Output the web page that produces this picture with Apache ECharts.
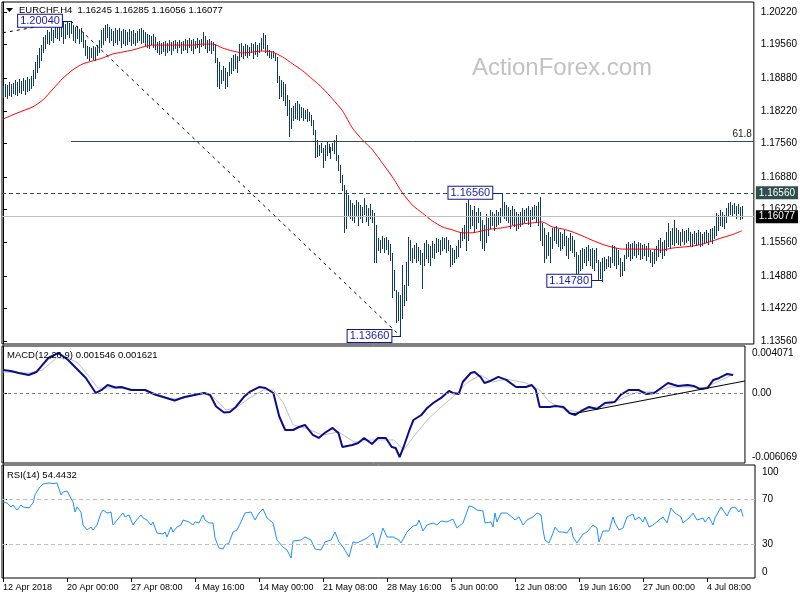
<!DOCTYPE html>
<html><head><meta charset="utf-8">
<script src="https://cdn.jsdelivr.net/npm/echarts@6/dist/echarts.min.js"></script>
<style>html,body{margin:0;padding:0;background:#fff}#c{width:800px;height:600px}</style>
</head><body><div id="c"></div>
<script>
// ---------- DATA ----------
const headerText = 'EURCHF.H4  1.16245 1.16285 1.16056 1.16077';
const macdTitle = 'MACD(12,26,9) 0.001546 0.001621';
const rsiTitle = 'RSI(14) 54.4432';

const xTickIdx = [0,32,64,96,128,160,192,224,256,288,320,352];
const xTickLabels = ['12 Apr 2018','20 Apr 00:00','27 Apr 08:00','4 May 16:00','14 May 00:00','21 May 08:00','28 May 16:00','5 Jun 00:00','12 Jun 08:00','19 Jun 16:00','27 Jun 00:00','4 Jul 08:00'];
const priceTicks = [1.2022,1.1956,1.1888,1.1822,1.1756,1.1688,1.1622,1.1556,1.1488,1.1422,1.1356];
const macdTicks = [0.004071, 0, -0.006069];
const macdTickLabels = ['0.004071','0.00','-0.006069'];
const rsiTicks = [100,70,30,0];

const barHigh = [
1.1872,1.1876,1.1874,1.1880,1.1876,1.1878,1.1884,1.1880,1.1886,1.1882,
1.1888,1.1884,1.1890,1.1886,1.1892,1.1905,1.1921,1.1935,1.1949,1.1955,
1.1971,1.1975,1.1986,1.1982,1.1990,1.1986,1.1996,1.2002,1.1998,1.2000,
1.2002,1.1998,1.2002,1.2000,1.2004,1.1996,1.1992,1.1994,1.1988,1.1990,
1.1982,1.1965,1.1953,1.1951,1.1949,1.1953,1.1951,1.1955,1.1965,1.1986,
1.1990,1.1996,1.1998,1.1992,1.1988,1.1984,1.1990,1.1986,1.1990,1.1984,
1.1988,1.1986,1.1982,1.1988,1.1984,1.1986,1.1980,1.1984,1.1988,1.1990,
1.1986,1.1982,1.1977,1.1975,1.1973,1.1977,1.1971,1.1961,1.1963,1.1959,
1.1961,1.1963,1.1959,1.1965,1.1961,1.1963,1.1965,1.1961,1.1965,1.1961,
1.1963,1.1967,1.1965,1.1969,1.1965,1.1967,1.1963,1.1969,1.1965,1.1967,
1.1982,1.1973,1.1965,1.1967,1.1963,1.1961,1.1957,1.1929,1.1921,1.1905,
1.1913,1.1909,1.1901,1.1921,1.1929,1.1935,1.1937,1.1933,1.1957,1.1959,
1.1953,1.1957,1.1955,1.1951,1.1959,1.1957,1.1961,1.1955,1.1959,1.1969,
1.1980,1.1975,1.1955,1.1945,1.1941,1.1943,1.1939,1.1931,1.1892,1.1884,
1.1880,1.1876,1.1854,1.1844,1.1828,1.1832,1.1838,1.1842,1.1836,1.1830,
1.1828,1.1824,1.1826,1.1820,1.1814,1.1803,1.1783,1.1763,1.1753,1.1757,
1.1747,1.1753,1.1759,1.1755,1.1749,1.1757,1.1763,1.1773,1.1733,1.1712,
1.1692,1.1672,1.1662,1.1652,1.1641,1.1635,1.1631,1.1641,1.1637,1.1631,
1.1627,1.1645,1.1631,1.1625,1.1633,1.1621,1.1615,1.1591,1.1565,1.1560,
1.1569,1.1565,1.1567,1.1560,1.1552,1.1534,1.1500,1.1459,1.1455,1.1449,
1.1510,1.1469,1.1516,1.1567,1.1560,1.1544,1.1550,1.1554,1.1546,1.1540,
1.1534,1.1554,1.1560,1.1552,1.1548,1.1558,1.1552,1.1565,1.1562,1.1560,
1.1567,1.1565,1.1567,1.1560,1.1550,1.1544,1.1540,1.1548,1.1560,1.1577,
1.1585,1.1591,1.1635,1.1641,1.1631,1.1621,1.1629,1.1617,1.1625,1.1617,
1.1601,1.1591,1.1613,1.1605,1.1621,1.1617,1.1613,1.1621,1.1617,1.1625,
1.1656,1.1637,1.1631,1.1627,1.1621,1.1629,1.1623,1.1617,1.1613,1.1617,
1.1625,1.1621,1.1625,1.1629,1.1621,1.1627,1.1631,1.1629,1.1637,1.1648,
1.1595,1.1585,1.1571,1.1577,1.1567,1.1585,1.1587,1.1589,1.1583,1.1577,
1.1573,1.1581,1.1569,1.1565,1.1575,1.1569,1.1560,1.1536,1.1530,1.1540,
1.1544,1.1542,1.1546,1.1550,1.1542,1.1544,1.1540,1.1544,1.1520,1.1516,
1.1524,1.1526,1.1522,1.1528,1.1526,1.1550,1.1548,1.1544,1.1540,1.1524,
1.1516,1.1530,1.1552,1.1556,1.1552,1.1554,1.1558,1.1552,1.1556,1.1554,
1.1550,1.1552,1.1548,1.1554,1.1540,1.1536,1.1542,1.1548,1.1560,1.1565,
1.1556,1.1560,1.1577,1.1595,1.1579,1.1585,1.1601,1.1585,1.1581,1.1577,
1.1583,1.1579,1.1581,1.1585,1.1577,1.1573,1.1579,1.1575,1.1581,1.1577,
1.1573,1.1577,1.1581,1.1575,1.1583,1.1585,1.1589,1.1615,1.1611,1.1621,
1.1617,1.1611,1.1625,1.1635,1.1637,1.1631,1.1635,1.1629,1.1633,1.1627,
1.16285];

const barLow = [
1.1850,1.1852,1.1848,1.1854,1.1852,1.1858,1.1856,1.1854,1.1860,1.1858,
1.1864,1.1856,1.1862,1.1864,1.1868,1.1874,1.1888,1.1901,1.1911,1.1925,
1.1941,1.1949,1.1959,1.1957,1.1965,1.1961,1.1971,1.1969,1.1965,1.1973,
1.1959,1.1969,1.1977,1.1971,1.1980,1.1965,1.1961,1.1969,1.1959,1.1963,
1.1951,1.1935,1.1929,1.1925,1.1931,1.1927,1.1925,1.1935,1.1941,1.1951,
1.1957,1.1965,1.1971,1.1961,1.1965,1.1955,1.1961,1.1957,1.1965,1.1951,
1.1959,1.1955,1.1957,1.1963,1.1955,1.1959,1.1955,1.1961,1.1965,1.1959,
1.1961,1.1955,1.1951,1.1949,1.1957,1.1951,1.1947,1.1941,1.1937,1.1939,
1.1943,1.1935,1.1941,1.1945,1.1937,1.1945,1.1949,1.1941,1.1951,1.1939,
1.1945,1.1947,1.1941,1.1951,1.1945,1.1939,1.1949,1.1951,1.1941,1.1953,
1.1955,1.1949,1.1941,1.1945,1.1939,1.1945,1.1921,1.1872,1.1868,1.1878,
1.1884,1.1868,1.1872,1.1894,1.1899,1.1905,1.1909,1.1901,1.1925,1.1933,
1.1929,1.1935,1.1931,1.1935,1.1941,1.1929,1.1937,1.1933,1.1941,1.1945,
1.1949,1.1941,1.1935,1.1931,1.1929,1.1931,1.1925,1.1880,1.1848,1.1852,
1.1844,1.1834,1.1814,1.1771,1.1787,1.1803,1.1807,1.1805,1.1803,1.1809,
1.1803,1.1807,1.1801,1.1803,1.1793,1.1775,1.1728,1.1731,1.1733,1.1739,
1.1708,1.1722,1.1733,1.1739,1.1726,1.1743,1.1737,1.1722,1.1702,1.1678,
1.1662,1.1577,1.1585,1.1611,1.1605,1.1601,1.1597,1.1611,1.1591,1.1605,
1.1597,1.1613,1.1599,1.1591,1.1605,1.1597,1.1516,1.1516,1.1540,1.1536,
1.1544,1.1536,1.1542,1.1532,1.1520,1.1445,1.1459,1.1394,1.1399,1.1366,
1.1403,1.1429,1.1439,1.1469,1.1520,1.1516,1.1524,1.1516,1.1520,1.1512,
1.1463,1.1510,1.1524,1.1516,1.1510,1.1526,1.1524,1.1536,1.1538,1.1532,
1.1540,1.1544,1.1536,1.1540,1.1508,1.1512,1.1516,1.1524,1.1528,1.1546,
1.1560,1.1565,1.1540,1.1560,1.1585,1.1591,1.1577,1.1585,1.1597,1.1560,
1.1544,1.1540,1.1556,1.1571,1.1585,1.1591,1.1581,1.1589,1.1593,1.1597,
1.1611,1.1605,1.1601,1.1597,1.1585,1.1593,1.1589,1.1581,1.1585,1.1589,
1.1593,1.1597,1.1601,1.1593,1.1589,1.1603,1.1605,1.1599,1.1591,1.1560,
1.1550,1.1516,1.1524,1.1530,1.1516,1.1544,1.1560,1.1554,1.1548,1.1540,
1.1544,1.1550,1.1530,1.1524,1.1540,1.1536,1.1528,1.1479,1.1488,1.1500,
1.1504,1.1516,1.1510,1.1520,1.1510,1.1504,1.1500,1.1516,1.1481,1.1484,
1.1478,1.1500,1.1504,1.1508,1.1506,1.1516,1.1510,1.1504,1.1512,1.1488,
1.1490,1.1500,1.1524,1.1528,1.1520,1.1524,1.1530,1.1526,1.1532,1.1522,
1.1524,1.1530,1.1520,1.1528,1.1516,1.1508,1.1514,1.1520,1.1528,1.1536,
1.1524,1.1530,1.1540,1.1548,1.1544,1.1552,1.1550,1.1556,1.1552,1.1550,
1.1558,1.1552,1.1556,1.1560,1.1550,1.1548,1.1554,1.1550,1.1552,1.1548,
1.1550,1.1554,1.1556,1.1552,1.1558,1.1554,1.1565,1.1571,1.1581,1.1591,
1.1589,1.1585,1.1597,1.1609,1.1613,1.1611,1.1615,1.1605,1.1615,1.1603,
1.16056];

// moving average [bar index, value]
const maPoints = [[0,1.1805],[5,1.1814],[10,1.1822],[15,1.1830],[20,1.1844],[25,1.1866],[30,1.1888],[35,1.1905],[40,1.1917],[45,1.1923],[50,1.1929],[55,1.1937],[60,1.1941],[65,1.1945],[70,1.1951],[75,1.1955],[80,1.1955],[85,1.1955],[90,1.1955],[95,1.1955],[100,1.1957],[105,1.1957],[110,1.1949],[115,1.1943],[120,1.1939],[125,1.1941],[130,1.1943],[135,1.1941],[140,1.1931],[145,1.1917],[150,1.1903],[155,1.1886],[160,1.1868],[165,1.1846],[170,1.1822],[175,1.1787],[180,1.1763],[185,1.1743],[190,1.1716],[195,1.1688],[200,1.1656],[205,1.1631],[210,1.1615],[215,1.1599],[220,1.1587],[225,1.1581],[230,1.1575],[235,1.1575],[240,1.1579],[245,1.1583],[250,1.1585],[255,1.1589],[260,1.1593],[265,1.1595],[270,1.1597],[275,1.1587],[280,1.1583],[285,1.1577],[290,1.1569],[295,1.1560],[300,1.1552],[305,1.1546],[310,1.1542],[315,1.1542],[320,1.1542],[325,1.1542],[330,1.1540],[335,1.1544],[340,1.1546],[345,1.1548],[350,1.1552],[355,1.1558],[360,1.1565],[365,1.1571],[370,1.1579]];

const macdPoints = [[0,0.00199],[4,0.00191],[8,0.00173],[13,0.00156],[17,0.00182],[20,0.00243],[23,0.00303],[26,0.00329],[28,0.00347],[31,0.00312],[33,0.00286],[37,0.00217],[42,0.00130],[47,0.00000],[50,0.00026],[53,0.00069],[57,0.00048],[60,0.00052],[65,0.00026],[72,0.00026],[77,-0.00013],[82,-0.00039],[87,-0.00065],[92,-0.00035],[97,-0.00017],[102,0.00000],[105,-0.00017],[108,-0.00117],[112,-0.00169],[115,-0.00165],[118,-0.00121],[122,-0.00035],[125,0.00009],[130,0.00052],[133,0.00043],[137,0.00000],[140,-0.00204],[143,-0.00321],[147,-0.00321],[150,-0.00295],[153,-0.00277],[157,-0.00364],[160,-0.00390],[163,-0.00347],[167,-0.00303],[170,-0.00347],[172,-0.00468],[177,-0.00451],[180,-0.00434],[183,-0.00390],[187,-0.00442],[190,-0.00390],[194,-0.00390],[197,-0.00468],[199,-0.00477],[201,-0.00555],[203,-0.00468],[206,-0.00321],[208,-0.00234],[212,-0.00191],[215,-0.00130],[218,-0.00087],[222,-0.00043],[226,0.00017],[228,0.00000],[231,-0.00009],[233,0.00095],[237,0.00173],[239,0.00182],[242,0.00139],[244,0.00087],[247,0.00104],[251,0.00139],[255,0.00113],[260,0.00052],[265,0.00052],[268,0.00069],[270,0.00026],[272,-0.00121],[277,-0.00121],[280,-0.00113],[284,-0.00121],[287,-0.00173],[290,-0.00191],[293,-0.00156],[297,-0.00121],[301,-0.00139],[305,-0.00087],[310,-0.00078],[313,-0.00017],[317,0.00026],[322,0.00026],[326,-0.00009],[330,0.00000],[337,0.00087],[342,0.00061],[347,0.00069],[350,0.00061],[353,0.00035],[357,0.00043],[360,0.00113],[363,0.00130],[367,0.00165],[370,0.00155]];

const signalPoints = [[0,0.00182],[13,0.00173],[20,0.00199],[27,0.00303],[33,0.00303],[38,0.00260],[45,0.00113],[48,0.00043],[55,0.00043],[72,0.00026],[85,-0.00052],[92,-0.00043],[102,0.00000],[107,-0.00043],[113,-0.00147],[118,-0.00130],[125,-0.00043],[132,0.00026],[137,0.00026],[142,-0.00082],[147,-0.00277],[153,-0.00303],[162,-0.00364],[170,-0.00338],[178,-0.00425],[187,-0.00407],[195,-0.00407],[198,-0.00407],[203,-0.00494],[208,-0.00381],[215,-0.00234],[222,-0.00121],[228,-0.00035],[235,0.00087],[242,0.00156],[248,0.00095],[255,0.00121],[265,0.00087],[272,0.00026],[277,-0.00078],[285,-0.00147],[292,-0.00165],[298,-0.00130],[307,-0.00104],[315,-0.00035],[322,0.00009],[330,0.00009],[338,0.00052],[348,0.00052],[355,0.00043],[362,0.00095],[370,0.00162]];

const macdTrend = [[288.5,-0.00182],[376,0.00104]];

const rsiPoints = [[0,67.3],[2,66.4],[4,62.8],[5,64.6],[7,60.2],[9,64.6],[10,62.8],[13,62.0],[15,66.4],[16,73.5],[18,79.6],[20,83.2],[23,84.1],[25,83.5],[27,84.1],[29,73.5],[30,76.1],[32,77.0],[33,77.9],[35,67.3],[36,58.4],[37,62.8],[39,58.4],[40,46.9],[42,42.5],[44,45.1],[45,42.5],[47,46.9],[49,57.5],[50,60.2],[52,57.5],[54,58.4],[55,46.9],[57,51.3],[60,57.5],[61,54.0],[63,55.8],[65,46.9],[66,49.6],[69,55.8],[70,53.1],[72,51.3],[74,46.9],[75,49.6],[77,39.8],[80,38.9],[81,40.7],[82,36.3],[84,45.1],[85,40.7],[87,45.1],[89,46.9],[90,51.3],[93,49.6],[95,46.9],[96,49.6],[98,48.7],[100,55.8],[101,51.3],[103,48.7],[105,48.7],[106,35.4],[108,26.5],[110,25.7],[111,29.2],[113,31.0],[115,40.7],[117,42.5],[119,49.6],[121,57.5],[124,58.4],[126,51.3],[128,57.5],[130,61.1],[132,53.1],[135,48.7],[137,33.6],[140,27.4],[142,24.8],[144,17.7],[145,32.7],[149,33.6],[151,36.3],[154,33.6],[156,25.7],[159,24.8],[161,31.9],[164,33.6],[166,40.7],[168,31.9],[170,27.4],[173,18.6],[175,31.9],[177,31.0],[180,33.6],[182,35.4],[185,39.8],[187,26.5],[190,44.2],[192,36.3],[195,36.3],[198,33.6],[199,31.0],[200,31.9],[202,40.7],[205,46.0],[207,46.9],[208,51.3],[210,41.6],[212,46.9],[215,48.7],[217,46.9],[219,50.4],[222,49.6],[225,52.2],[227,44.2],[230,48.7],[231,49.6],[233,63.7],[235,62.8],[237,60.2],[240,59.3],[241,48.7],[244,49.6],[245,45.1],[246,57.5],[247,49.6],[249,57.5],[252,57.5],[255,53.1],[256,51.3],[258,54.0],[260,46.9],[262,51.3],[265,54.0],[267,57.5],[269,55.8],[270,42.5],[271,33.6],[273,31.0],[275,39.8],[276,45.1],[278,40.7],[280,40.7],[282,39.8],[284,45.1],[285,36.3],[287,31.0],[289,36.3],[290,38.9],[292,40.7],[295,46.9],[297,44.2],[298,31.9],[300,41.6],[303,41.6],[305,54.0],[306,48.7],[308,42.5],[310,44.2],[312,54.0],[315,56.6],[316,51.3],[318,54.0],[320,49.6],[321,54.0],[323,45.1],[325,46.9],[328,51.3],[330,54.0],[332,48.7],[334,61.9],[336,57.5],[339,54.0],[340,48.7],[343,53.1],[345,57.5],[347,51.3],[350,53.1],[351,49.6],[353,54.0],[355,46.9],[356,53.1],[359,62.8],[360,60.2],[362,54.9],[364,61.9],[366,62.8],[368,58.4],[369,61.1],[370,54.44]];

// annotated levels
const swingHigh = [34, 1.2004];
const swingLow = [199, 1.1366];
const pivotHigh = [250, 1.1656];
const pivotLow = [300, 1.1478];
const fib618 = 1.17603;
const prevTrendStart = [0, 1.1980];
const resistLevel = 1.1656;
const bidPrice = 1.16077;

// ---------- CHART ----------
const FONT = '"Liberation Sans", Arial, sans-serif';
const X_MIN = -0.5, X_MAX = 376;
const bars = barHigh.map((h, i) => [i, h, barLow[i]]);
const chart = echarts.init(document.getElementById('c'), null, {renderer: 'canvas'});

function xAxisFor(g) {
  const bottom = g === 2;
  return {
    type: 'value', gridIndex: g, min: X_MIN, max: X_MAX,
    splitLine: {show: false}, axisLine: {show: false},
    axisTick: bottom ? {show: true, customValues: xTickIdx, length: 4, inside: false, lineStyle: {color: '#000'}} : {show: false},
    axisLabel: bottom ? {show: true, customValues: xTickIdx, align: 'left', fontSize: 9, fontFamily: FONT, color: '#000', margin: 5,
      formatter: v => { const k = xTickIdx.indexOf(Math.round(v)); return k >= 0 ? xTickLabels[k] : ''; }} : {show: false}
  };
}
const edgeRich = {
  t: {fontSize: 10, fontFamily: FONT, color: '#000', padding: [14, 0, 0, 0]},
  b: {fontSize: 10, fontFamily: FONT, color: '#000', padding: [0, 0, 11, 0]}
};
const annLabel = (text, dist) => ({show: true, position: 'left', distance: dist, formatter: text});
const navy = '#14148c';

const option = {
  animation: false,
  backgroundColor: '#fff',
  textStyle: {fontFamily: FONT},
  grid: [
    {left: 2, top: 2, width: 753, height: 342, show: true, borderColor: '#000', borderWidth: 1},
    {left: 2, top: 346, width: 753, height: 117, show: true, borderColor: '#000', borderWidth: 1},
    {left: 2, top: 465, width: 753, height: 113, show: true, borderColor: '#000', borderWidth: 1}
  ],
  xAxis: [xAxisFor(0), xAxisFor(1), xAxisFor(2)],
  yAxis: [
    {type: 'value', gridIndex: 0, position: 'right', min: 1.13499, max: 1.20422,
      splitLine: {show: false}, axisLine: {show: true, lineStyle: {color: '#000'}},
      axisTick: {show: true, customValues: priceTicks, length: 4, lineStyle: {color: '#000'}},
      axisLabel: {customValues: priceTicks, formatter: v => v.toFixed(5), fontSize: 10, fontFamily: FONT, color: '#000', margin: 7}},
    {type: 'value', gridIndex: 1, position: 'right', min: -0.006069, max: 0.004071,
      splitLine: {show: false}, axisLine: {show: true, lineStyle: {color: '#000'}},
      axisTick: {show: true, customValues: [0], length: 4, lineStyle: {color: '#000'}},
      axisLabel: {customValues: macdTicks, fontSize: 10, fontFamily: FONT, color: '#000', margin: 7, rich: edgeRich,
        formatter: v => { const k = macdTicks.findIndex(t => Math.abs(t - v) < 1e-9); const s = macdTickLabels[k];
          return k === 0 ? '{t|' + s + '}' : (k === macdTicks.length - 1 ? '{b|' + s + '}' : s); }}},
    {type: 'value', gridIndex: 2, position: 'right', min: 0, max: 100,
      splitLine: {show: false}, axisLine: {show: true, lineStyle: {color: '#000'}},
      axisTick: {show: true, customValues: [70, 30], length: 4, lineStyle: {color: '#000'}},
      axisLabel: {customValues: rsiTicks, fontSize: 10, fontFamily: FONT, color: '#000', margin: 7, rich: edgeRich,
        formatter: v => v === 100 ? '{t|100}' : (v === 0 ? '{b|0}' : String(v))}}
  ],
  graphic: [
    {type: 'text', x: 472, y: 68, z: -10, style: {text: 'ActionForex.com', font: '24px ' + FONT, fill: '#c2c2c2', verticalAlign: 'middle'}},
    {type: 'polygon', shape: {points: [[6, 8], [13, 8], [9.5, 12]]}, style: {fill: '#000'}},
    {type: 'text', x: 19, y: 10.5, style: {text: headerText, font: '9.5px ' + FONT, fill: '#000', verticalAlign: 'middle'}},
    {type: 'text', x: 7, y: 355.5, z: 100, style: {text: macdTitle, font: '9.5px ' + FONT, fill: '#000', verticalAlign: 'middle'}},
    {type: 'text', x: 7, y: 475.5, z: 100, style: {text: rsiTitle, font: '9.5px ' + FONT, fill: '#000', verticalAlign: 'middle'}}
  ],
  series: [
    {
      type: 'custom', name: 'bars', xAxisIndex: 0, yAxisIndex: 0, data: bars, z: 3,
      encode: {x: 0, y: [1, 2]},
      renderItem: (params, api) => {
        const i = api.value(0);
        const a = api.coord([i, api.value(1)]);
        const b = api.coord([i, api.value(2)]);
        const px = Math.round(a[0]) + 0.5;
        return {type: 'line', shape: {x1: px, y1: Math.round(a[1]), x2: px, y2: Math.round(b[1]) + 1},
          style: {stroke: '#0f3b5c', lineWidth: 1}};
      }
    },
    {
      type: 'line', name: 'MA', xAxisIndex: 0, yAxisIndex: 0, data: maPoints, z: 4,
      symbol: 'none', smooth: 0.2, lineStyle: {color: '#ff0000', width: 1},
      markLine: {
        silent: true, symbol: ['none', 'none'], animation: false, precision: 6,
        data: [
          {yAxis: resistLevel, lineStyle: {color: '#2f4f4f', type: [4, 3], width: 1},
            label: {show: true, position: 'end', distance: 2, formatter: '1.16560', color: '#fff', backgroundColor: '#2f4f4f', padding: [2, 3, 1, 3], fontSize: 10, fontFamily: FONT}},
          {yAxis: bidPrice, lineStyle: {color: '#c0c0c0', type: 'solid', width: 1},
            label: {show: true, position: 'end', distance: 2, formatter: '1.16077', color: '#fff', backgroundColor: '#000', padding: [2, 3, 1, 3], fontSize: 10, fontFamily: FONT}},
          [{coord: [swingHigh[0], fib618], lineStyle: {color: '#2f4f4f', type: 'solid', width: 1},
             label: {show: true, position: 'insideEndTop', distance: 2, formatter: '61.8', color: '#222', fontSize: 10, fontFamily: FONT}},
           {coord: [X_MAX, fib618]}],
          [{coord: prevTrendStart, lineStyle: {color: '#000', type: [3, 4], width: 1}, label: {show: false}}, {coord: swingHigh}],
          [{coord: swingHigh, lineStyle: {color: '#000', type: [3, 4], width: 1}, label: {show: false}}, {coord: swingLow}],
          [{coord: [swingHigh[0] - 4.5, swingHigh[1]], lineStyle: {color: navy, type: 'solid', width: 1}, label: {show: false}}, {coord: swingHigh}],
          [{coord: [pivotHigh[0] - 5, pivotHigh[1]], lineStyle: {color: navy, type: 'solid', width: 1}, label: {show: false}}, {coord: pivotHigh}],
          [{coord: [swingLow[0] - 4.5, swingLow[1]], lineStyle: {color: navy, type: 'solid', width: 1}, label: {show: false}}, {coord: swingLow}],
          [{coord: [pivotLow[0] - 5.5, pivotLow[1]], lineStyle: {color: navy, type: 'solid', width: 1}, label: {show: false}}, {coord: pivotLow}]
        ]
      },
      markPoint: {
        silent: true, symbol: 'circle', symbolSize: 0, animation: false,
        label: {show: true, color: '#1c1ca8', fontSize: 11, fontFamily: FONT, backgroundColor: '#fff', borderColor: navy, borderWidth: 1, padding: [1, 2, 0, 2]},
        data: [
          {coord: swingHigh, label: annLabel('1.20040', 9)},
          {coord: pivotHigh, label: annLabel('1.16560', 10)},
          {coord: swingLow, label: annLabel('1.13660', 9)},
          {coord: pivotLow, label: annLabel('1.14780', 11)}
        ]
      }
    },
    {
      type: 'line', name: 'signal', xAxisIndex: 1, yAxisIndex: 1, data: signalPoints, z: 3,
      symbol: 'none', lineStyle: {color: '#c0c0c0', width: 1},
      markLine: {
        silent: true, symbol: ['none', 'none'], animation: false, label: {show: false}, precision: 6,
        data: [
          {yAxis: 0, lineStyle: {color: '#7a7a7a', type: [3, 3], width: 1}},
          [{coord: macdTrend[0], lineStyle: {color: '#000', type: 'solid', width: 1}}, {coord: macdTrend[1]}]
        ]
      }
    },
    {
      type: 'line', name: 'MACD', xAxisIndex: 1, yAxisIndex: 1, data: macdPoints, z: 4,
      symbol: 'none', lineStyle: {color: '#0c0c8a', width: 2}
    },
    {
      type: 'line', name: 'RSI', xAxisIndex: 2, yAxisIndex: 2, data: rsiPoints, z: 4,
      symbol: 'none', lineStyle: {color: '#1e90ff', width: 1},
      markLine: {
        silent: true, symbol: ['none', 'none'], animation: false, label: {show: false},
        data: [
          {yAxis: 70, lineStyle: {color: '#c0c0c0', type: [4, 3], width: 1}},
          {yAxis: 30, lineStyle: {color: '#c0c0c0', type: [4, 3], width: 1}}
        ]
      }
    }
  ]
};
chart.setOption(option);
</script>
</body></html>
